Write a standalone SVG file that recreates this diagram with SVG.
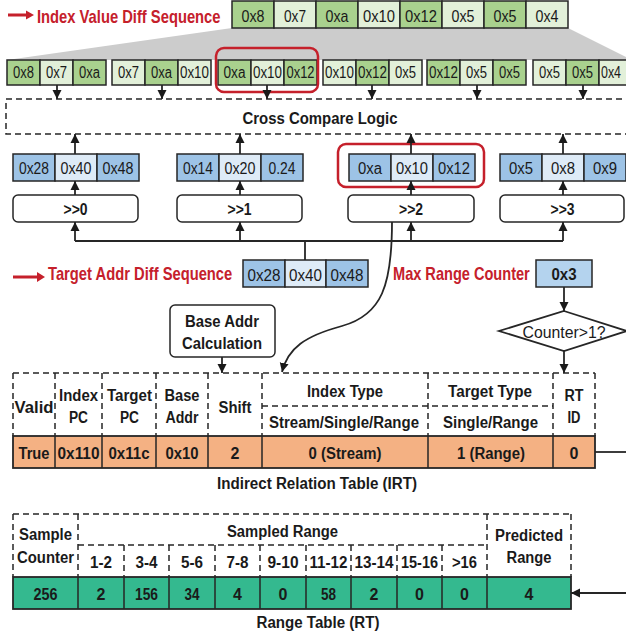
<svg xmlns="http://www.w3.org/2000/svg" width="626" height="638" viewBox="0 0 626 638">
<defs>
<marker id="ah" markerUnits="userSpaceOnUse" markerWidth="10" markerHeight="10" refX="9" refY="5" orient="auto"><path d="M0,0.5 L9,5 L0,9.5 z" fill="#1a1a1a"/></marker>
<style>
text{font-family:"Liberation Sans",Arial,sans-serif;fill:#1a1a1a;text-anchor:middle}
.t1{font-size:17px}
.t2{font-size:16px}
.b{font-weight:bold;font-size:16px}
.red{font-weight:bold;font-size:18px;fill:#c5202b;text-anchor:start}
.dg{fill:#a9d18e;stroke:#262626;stroke-width:1.5}
.lg{fill:#e2f0d9;stroke:#262626;stroke-width:1.5}
.db{fill:#9dc3e6;stroke:#262626;stroke-width:1.5}
.lb{fill:#deebf7;stroke:#262626;stroke-width:1.5}
.box{fill:#fff;stroke:#262626;stroke-width:1.5}
.dash{fill:none;stroke:#262626;stroke-width:1.5;stroke-dasharray:6 4}
.ln{fill:none;stroke:#262626;stroke-width:1.8}
.arr{fill:none;stroke:#262626;stroke-width:1.8;marker-end:url(#ah)}
.hl{fill:none;stroke:#c5202b;stroke-width:2.5}
.sol{fill:none;stroke:#262626;stroke-width:1.5}
</style>
</defs>

<!-- gray fan -->
<polygon points="232,28 568,28 640,64 640,60 7,60" fill="#cccccc"/>

<!-- Index value diff sequence -->
<g id="label-index">
<path d="M8,13.5 H26 V10.5 L34,15 L26,19.5 V16.5 H8 z" fill="#c5202b"/>
<text class="red" transform="translate(37,23) scale(0.82,1)" x="0" y="0">Index Value Diff Sequence</text>
</g>
<g id="index-seq">
<rect class="dg" x="232" y="1" width="42" height="27"/><text class="t1" x="253" y="22" textLength="23" lengthAdjust="spacingAndGlyphs">0x8</text>
<rect class="lg" x="274" y="1" width="42" height="27"/><text class="t1" x="295" y="22" textLength="22" lengthAdjust="spacingAndGlyphs">0x7</text>
<rect class="dg" x="316" y="1" width="42" height="27"/><text class="t1" x="337" y="22" textLength="23" lengthAdjust="spacingAndGlyphs">0xa</text>
<rect class="lg" x="358" y="1" width="42" height="27"/><text class="t1" x="379" y="22" textLength="32" lengthAdjust="spacingAndGlyphs">0x10</text>
<rect class="dg" x="400" y="1" width="42" height="27"/><text class="t1" x="421" y="22" textLength="32" lengthAdjust="spacingAndGlyphs">0x12</text>
<rect class="lg" x="442" y="1" width="42" height="27"/><text class="t1" x="463" y="22" textLength="23" lengthAdjust="spacingAndGlyphs">0x5</text>
<rect class="dg" x="484" y="1" width="42" height="27"/><text class="t1" x="505" y="22" textLength="23" lengthAdjust="spacingAndGlyphs">0x5</text>
<rect class="lg" x="526" y="1" width="42" height="27"/><text class="t1" x="547" y="22" textLength="23" lengthAdjust="spacingAndGlyphs">0x4</text>
</g>

<!-- windows -->
<g id="win1">
<rect class="dg" x="7" y="60" width="33" height="25"/><text class="t2" x="23.5" y="78" textLength="21" lengthAdjust="spacingAndGlyphs">0x8</text>
<rect class="lg" x="40" y="60" width="33" height="25"/><text class="t2" x="56.5" y="78" textLength="21" lengthAdjust="spacingAndGlyphs">0x7</text>
<rect class="dg" x="73" y="60" width="33" height="25"/><text class="t2" x="89.5" y="78" textLength="21" lengthAdjust="spacingAndGlyphs">0xa</text>
</g>
<g id="win2">
<rect class="lg" x="112" y="60" width="33" height="25"/><text class="t2" x="128.5" y="78" textLength="21" lengthAdjust="spacingAndGlyphs">0x7</text>
<rect class="dg" x="145" y="60" width="33" height="25"/><text class="t2" x="161.5" y="78" textLength="21" lengthAdjust="spacingAndGlyphs">0xa</text>
<rect class="lg" x="178" y="60" width="33" height="25"/><text class="t2" x="194.5" y="78" textLength="29" lengthAdjust="spacingAndGlyphs">0x10</text>
</g>
<g id="win3">
<rect class="dg" x="218" y="60" width="33" height="25"/><text class="t2" x="234.5" y="78" textLength="22" lengthAdjust="spacingAndGlyphs">0xa</text>
<rect class="lg" x="251" y="60" width="33" height="25"/><text class="t2" x="267.5" y="78" textLength="29" lengthAdjust="spacingAndGlyphs">0x10</text>
<rect class="dg" x="284" y="60" width="33" height="25"/><text class="t2" x="300.5" y="78" textLength="28" lengthAdjust="spacingAndGlyphs">0x12</text>
<rect class="hl" x="216" y="48" width="102" height="44" rx="8"/>
</g>
<g id="win4">
<rect class="lg" x="323" y="60" width="33" height="25"/><text class="t2" x="339.5" y="78" textLength="29" lengthAdjust="spacingAndGlyphs">0x10</text>
<rect class="dg" x="356" y="60" width="33" height="25"/><text class="t2" x="372.5" y="78" textLength="29" lengthAdjust="spacingAndGlyphs">0x12</text>
<rect class="lg" x="389" y="60" width="33" height="25"/><text class="t2" x="405.5" y="78" textLength="21" lengthAdjust="spacingAndGlyphs">0x5</text>
</g>
<g id="win5">
<rect class="dg" x="427" y="60" width="33" height="25"/><text class="t2" x="443.5" y="78" textLength="29" lengthAdjust="spacingAndGlyphs">0x12</text>
<rect class="lg" x="460" y="60" width="33" height="25"/><text class="t2" x="476.5" y="78" textLength="21" lengthAdjust="spacingAndGlyphs">0x5</text>
<rect class="dg" x="493" y="60" width="33" height="25"/><text class="t2" x="509.5" y="78" textLength="21" lengthAdjust="spacingAndGlyphs">0x5</text>
</g>
<g id="win6">
<rect class="lg" x="533" y="60" width="33" height="25"/><text class="t2" x="549.5" y="78" textLength="21" lengthAdjust="spacingAndGlyphs">0x5</text>
<rect class="dg" x="566" y="60" width="33" height="25"/><text class="t2" x="582.5" y="78" textLength="21" lengthAdjust="spacingAndGlyphs">0x5</text>
<rect class="lg" x="599" y="60" width="33" height="25"/><text class="t2" x="611" y="78" textLength="20" lengthAdjust="spacingAndGlyphs">0x4</text>
</g>

<!-- cross compare -->
<g id="cross-compare">
<rect class="dash" x="6" y="99" width="640" height="35"/>
<text class="b" x="320" y="124" font-size="15" textLength="155" lengthAdjust="spacingAndGlyphs">Cross Compare Logic</text>
</g>

<!-- shifted target diffs -->
<g id="tgt0">
<rect class="db" x="13" y="154" width="42" height="27"/><text class="t2" x="34" y="174" textLength="30" lengthAdjust="spacingAndGlyphs">0x28</text>
<rect class="lb" x="55" y="154" width="42" height="27"/><text class="t2" x="76" y="174" textLength="31" lengthAdjust="spacingAndGlyphs">0x40</text>
<rect class="db" x="97" y="154" width="42" height="27"/><text class="t2" x="118" y="174" textLength="31" lengthAdjust="spacingAndGlyphs">0x48</text>
</g>
<g id="tgt1">
<rect class="db" x="177" y="154" width="42" height="27"/><text class="t2" x="198" y="174" textLength="30" lengthAdjust="spacingAndGlyphs">0x14</text>
<rect class="lb" x="219" y="154" width="42" height="27"/><text class="t2" x="240" y="174" textLength="31" lengthAdjust="spacingAndGlyphs">0x20</text>
<rect class="db" x="261" y="154" width="42" height="27"/><text class="t2" x="282" y="174" textLength="27" lengthAdjust="spacingAndGlyphs">0.24</text>
</g>
<g id="tgt2">
<rect class="db" x="349" y="154" width="42" height="27"/><text class="t2" x="370" y="174" textLength="24" lengthAdjust="spacingAndGlyphs">0xa</text>
<rect class="lb" x="391" y="154" width="42" height="27"/><text class="t2" x="412" y="174" textLength="32" lengthAdjust="spacingAndGlyphs">0x10</text>
<rect class="db" x="433" y="154" width="42" height="27"/><text class="t2" x="454" y="174" textLength="32" lengthAdjust="spacingAndGlyphs">0x12</text>
<rect class="hl" x="338" y="144" width="146" height="43" rx="8"/>
</g>
<g id="tgt3">
<rect class="db" x="500" y="154" width="42" height="27"/><text class="t2" x="521" y="174" textLength="24" lengthAdjust="spacingAndGlyphs">0x5</text>
<rect class="lb" x="542" y="154" width="42" height="27"/><text class="t2" x="563" y="174" textLength="24" lengthAdjust="spacingAndGlyphs">0x8</text>
<rect class="db" x="584" y="154" width="42" height="27"/><text class="t2" x="605" y="174" textLength="24" lengthAdjust="spacingAndGlyphs">0x9</text>
</g>

<!-- shifters -->
<g id="shift0"><rect class="box" x="13" y="195" width="125" height="27" rx="5"/><text class="b" x="75.5" y="215" textLength="24" lengthAdjust="spacingAndGlyphs">&gt;&gt;0</text></g>
<g id="shift1"><rect class="box" x="177" y="195" width="125" height="27" rx="5"/><text class="b" x="239.5" y="215" textLength="24" lengthAdjust="spacingAndGlyphs">&gt;&gt;1</text></g>
<g id="shift2"><rect class="box" x="348" y="195" width="126" height="27" rx="5"/><text class="b" x="411" y="215" textLength="24" lengthAdjust="spacingAndGlyphs">&gt;&gt;2</text></g>
<g id="shift3"><rect class="box" x="500" y="195" width="124" height="27" rx="5"/><text class="b" x="562.5" y="215" textLength="24" lengthAdjust="spacingAndGlyphs">&gt;&gt;3</text></g>

<!-- target addr diff sequence -->
<g id="label-target">
<path d="M13,275.5 H37 V272 L45,277 L37,282 V278.5 H13 z" fill="#c5202b"/>
<text class="red" transform="translate(48,280) scale(0.82,1)" x="0" y="0" font-size="17">Target Addr Diff Sequence</text>
</g>
<g id="target-seq">
<rect class="db" x="243" y="260" width="42" height="27"/><text class="t1" x="264" y="281" textLength="33" lengthAdjust="spacingAndGlyphs">0x28</text>
<rect class="lb" x="285" y="260" width="41" height="27"/><text class="t1" x="305.5" y="281" textLength="33" lengthAdjust="spacingAndGlyphs">0x40</text>
<rect class="db" x="326" y="260" width="42" height="27"/><text class="t1" x="347" y="281" textLength="33" lengthAdjust="spacingAndGlyphs">0x48</text>
</g>

<!-- max range counter -->
<g id="max-range">
<text class="red" transform="translate(393,280) scale(0.81,1)" x="0" y="0" font-size="17">Max Range Counter</text>
<rect x="536" y="260" width="56" height="27" fill="#b4d3ee" stroke="#262626" stroke-width="1.5"/>
<text class="b" x="564" y="280" textLength="25" lengthAdjust="spacingAndGlyphs">0x3</text>
</g>
<g id="decision">
<polygon points="564,311 627,331 564,351 499,331" fill="#fff" stroke="#262626" stroke-width="1.8"/>
<text x="564" y="338" font-size="16" textLength="83" lengthAdjust="spacingAndGlyphs">Counter&gt;1?</text>
</g>

<!-- base addr calc -->
<g id="base-addr">
<rect class="box" x="170" y="305" width="105" height="52" rx="5"/>
<text class="b" x="222" y="327" textLength="74" lengthAdjust="spacingAndGlyphs">Base Addr</text>
<text class="b" x="222" y="349" textLength="80" lengthAdjust="spacingAndGlyphs">Calculation</text>
</g>

<!-- IRT -->
<g id="irt">
<path class="dash" d="M13,373 H595 M13,373 V436 M55,373 V436 M102,373 V436 M156,373 V436 M208,373 V436 M262,373 V436 M428,373 V436 M553,373 V436 M595,373 V436 M262,406 H553"/>
<text class="b" x="34" y="413" textLength="39" lengthAdjust="spacingAndGlyphs">Valid</text>
<text class="b" x="78.5" y="401" textLength="39" lengthAdjust="spacingAndGlyphs">Index</text>
<text class="b" x="78.5" y="423" textLength="19" lengthAdjust="spacingAndGlyphs">PC</text>
<text class="b" x="129.5" y="401" textLength="45" lengthAdjust="spacingAndGlyphs">Target</text>
<text class="b" x="129.5" y="423" textLength="19" lengthAdjust="spacingAndGlyphs">PC</text>
<text class="b" x="182" y="401" textLength="35" lengthAdjust="spacingAndGlyphs">Base</text>
<text class="b" x="182" y="423" textLength="33" lengthAdjust="spacingAndGlyphs">Addr</text>
<text class="b" x="235" y="413" textLength="33" lengthAdjust="spacingAndGlyphs">Shift</text>
<text class="b" x="345" y="397" textLength="76" lengthAdjust="spacingAndGlyphs">Index Type</text>
<text class="b" x="344" y="428" textLength="150" lengthAdjust="spacingAndGlyphs">Stream/Single/Range</text>
<text class="b" x="490" y="397" textLength="84" lengthAdjust="spacingAndGlyphs">Target Type</text>
<text class="b" x="490.5" y="428" textLength="95" lengthAdjust="spacingAndGlyphs">Single/Range</text>
<text class="b" x="574" y="401" textLength="19" lengthAdjust="spacingAndGlyphs">RT</text>
<text class="b" x="574" y="423" textLength="13" lengthAdjust="spacingAndGlyphs">ID</text>
<rect x="13" y="436" width="582" height="32" fill="#f4b183" stroke="#262626" stroke-width="1.8"/>
<path class="sol" d="M55,436 V468 M102,436 V468 M156,436 V468 M208,436 V468 M262,436 V468 M428,436 V468 M553,436 V468"/>
<text class="b" x="34" y="459" textLength="31" lengthAdjust="spacingAndGlyphs">True</text>
<text class="b" x="78.5" y="459" textLength="42" lengthAdjust="spacingAndGlyphs">0x110</text>
<text class="b" x="129" y="459" textLength="41" lengthAdjust="spacingAndGlyphs">0x11c</text>
<text class="b" x="182" y="459" textLength="33" lengthAdjust="spacingAndGlyphs">0x10</text>
<text class="b" x="235" y="459">2</text>
<text class="b" x="345" y="459" textLength="73" lengthAdjust="spacingAndGlyphs">0 (Stream)</text>
<text class="b" x="491" y="459" textLength="68" lengthAdjust="spacingAndGlyphs">1 (Range)</text>
<text class="b" x="574" y="459">0</text>
<text class="b" x="317" y="489" textLength="200" lengthAdjust="spacingAndGlyphs">Indirect Relation Table (IRT)</text>
</g>

<!-- RT -->
<g id="rt">
<path class="dash" d="M13,514 H571 M13,514 V577 M78,514 V577 M487,514 V577 M571,514 V577 M78,545 H487 M124,545 V577 M169,545 V577 M215,545 V577 M260,545 V577 M306,545 V577 M351,545 V577 M397,545 V577 M442,545 V577"/>
<text class="b" x="45.5" y="540" textLength="53" lengthAdjust="spacingAndGlyphs">Sample</text>
<text class="b" x="45.5" y="563" textLength="57" lengthAdjust="spacingAndGlyphs">Counter</text>
<text class="b" x="282.5" y="537" textLength="111" lengthAdjust="spacingAndGlyphs">Sampled Range</text>
<text class="b" x="101" y="568" textLength="22" lengthAdjust="spacingAndGlyphs">1-2</text>
<text class="b" x="146.5" y="568" textLength="22" lengthAdjust="spacingAndGlyphs">3-4</text>
<text class="b" x="192" y="568" textLength="22" lengthAdjust="spacingAndGlyphs">5-6</text>
<text class="b" x="237.5" y="568" textLength="22" lengthAdjust="spacingAndGlyphs">7-8</text>
<text class="b" x="283" y="568" textLength="31" lengthAdjust="spacingAndGlyphs">9-10</text>
<text class="b" x="328.5" y="568" textLength="38" lengthAdjust="spacingAndGlyphs">11-12</text>
<text class="b" x="374" y="568" textLength="39" lengthAdjust="spacingAndGlyphs">13-14</text>
<text class="b" x="419.5" y="568" textLength="37" lengthAdjust="spacingAndGlyphs">15-16</text>
<text class="b" x="464.5" y="568" textLength="25" lengthAdjust="spacingAndGlyphs">&gt;16</text>
<text class="b" x="529" y="541" textLength="68" lengthAdjust="spacingAndGlyphs">Predicted</text>
<text class="b" x="529" y="563" textLength="45" lengthAdjust="spacingAndGlyphs">Range</text>
<rect x="13" y="577" width="558" height="32" fill="#34b98f" stroke="#262626" stroke-width="1.8"/>
<path class="sol" d="M78,577 V609 M124,577 V609 M169,577 V609 M215,577 V609 M260,577 V609 M306,577 V609 M351,577 V609 M397,577 V609 M442,577 V609 M487,577 V609"/>
<text class="b" x="45.5" y="600" textLength="24" lengthAdjust="spacingAndGlyphs">256</text>
<text class="b" x="101" y="600">2</text>
<text class="b" x="146.5" y="600" textLength="23" lengthAdjust="spacingAndGlyphs">156</text>
<text class="b" x="192" y="600" textLength="15" lengthAdjust="spacingAndGlyphs">34</text>
<text class="b" x="237.5" y="600">4</text>
<text class="b" x="283" y="600">0</text>
<text class="b" x="328.5" y="600" textLength="15" lengthAdjust="spacingAndGlyphs">58</text>
<text class="b" x="374" y="600">2</text>
<text class="b" x="419.5" y="600">0</text>
<text class="b" x="464.5" y="600">0</text>
<text class="b" x="529" y="600">4</text>
<text class="b" x="318" y="628" textLength="123" lengthAdjust="spacingAndGlyphs">Range Table (RT)</text>
</g>

<!-- connectors -->
<g id="connectors">
<path class="arr" d="M57,85 V99"/>
<path class="arr" d="M162,85 V99"/>
<path class="arr" d="M267,85 V99"/>
<path class="arr" d="M372,85 V99"/>
<path class="arr" d="M477,85 V99"/>
<path class="arr" d="M583,85 V99"/>
<path class="arr" d="M75,154 V134"/>
<path class="arr" d="M240,154 V134"/>
<path class="arr" d="M411,154 V134"/>
<path class="arr" d="M563,154 V134"/>
<path class="arr" d="M75,195 V181"/>
<path class="arr" d="M240,195 V181"/>
<path class="arr" d="M411,195 V181"/>
<path class="arr" d="M563,195 V181"/>
<path class="ln" d="M75,241 H563 M305,241 V260"/>
<path class="arr" d="M75,241 V222"/>
<path class="arr" d="M240,241 V222"/>
<path class="arr" d="M411,241 V222"/>
<path class="arr" d="M563,241 V222"/>
<path class="arr" d="M392,222 C392,285 382,315 342,326 C305,336 288,348 282,372"/>
<path class="arr" d="M222,357 V373"/>
<path class="arr" d="M564,287 V311"/>
<path class="arr" d="M564,351 V373"/>
<path class="ln" d="M595,452 H626"/>
<path class="arr" d="M626,593 H571"/>
</g>
</svg>
